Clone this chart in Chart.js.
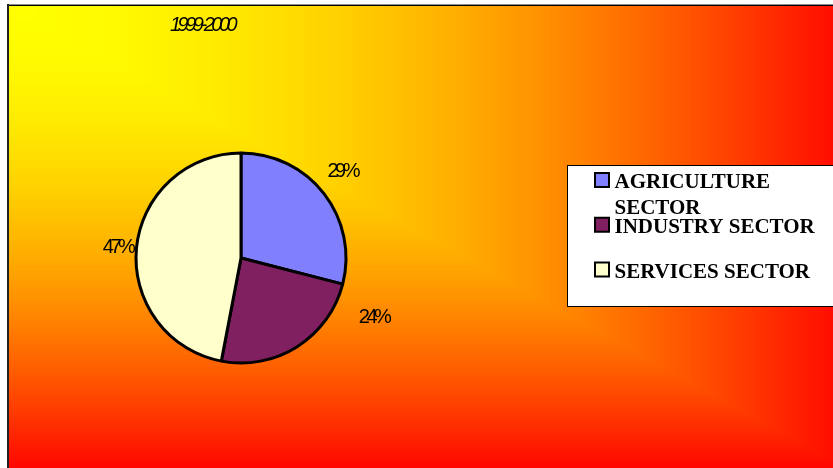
<!DOCTYPE html>
<html>
<head>
<meta charset="utf-8">
<script src="https://cdn.jsdelivr.net/npm/chart.js@4.4.1/dist/chart.umd.min.js"></script>
<style>
  body { margin: 0; background: #fff; }
  canvas { display: block; }
</style>
</head>
<body>
<canvas id="chart" width="833" height="468"></canvas>
<script>
// =======================
// DATA
// =======================
const chartTitle = "1999-2000";
const sectors = ["AGRICULTURE SECTOR", "INDUSTRY SECTOR", "SERVICES SECTOR"];
const shares = [29, 24, 47];
const sliceColors = ["#8080ff", "#802060", "#ffffcc"];

// where each % label sits: fraction along its slice, distance from centre
const labelSpots = [
  { at: 0.47, dist: 134 },
  { at: 0.11, dist: 145 },
  { at: 0.50, dist: 124 }
];

// =======================
// BACKGROUND + FRAME
// =======================
const backdrop = {
  id: "backdrop",
  beforeDraw(chart) {
    const ctx = chart.ctx;
    ctx.save();
    ctx.fillStyle = "#fff";
    ctx.fillRect(0, 0, chart.width, chart.height);

    // "from corner" fill: yellow top-left, red toward the far corner
    const x0 = 9, y0 = 6, W = 850, H = 470;
    const steps = 600;
    for (let i = steps; i >= 1; i--) {
      const t = i / steps;
      const g = Math.round(255 * (1 - Math.pow(t, 1.8)));
      ctx.fillStyle = `rgb(255,${g},0)`;
      ctx.fillRect(x0, y0, W * t, H * t);
    }

    // frame lines top and left
    ctx.fillStyle = "#8c8c8c";
    ctx.fillRect(7, 4, 826, 1);
    ctx.fillStyle = "#000";
    ctx.fillRect(7, 5, 826, 1);
    ctx.fillStyle = "#222";
    ctx.fillRect(7, 4, 2, 464);
    ctx.restore();
  }
};

// =======================
// TITLE, % LABELS, LEGEND
// =======================
const overlay = {
  id: "overlay",
  afterDraw(chart) {
    const ctx = chart.ctx;
    ctx.save();

    // title
    ctx.fillStyle = "#000";
    ctx.font = "italic 20px 'Liberation Sans', Arial, sans-serif";
    ctx.letterSpacing = "-3.5px";
    ctx.textAlign = "left";
    ctx.textBaseline = "middle";
    ctx.fillText(chartTitle, 170, 25);

    // percent labels
    const total = shares.reduce((a, b) => a + b, 0);
    const meta = chart.getDatasetMeta(0);
    ctx.font = "20px 'Liberation Sans', Arial, sans-serif";
    ctx.letterSpacing = "-3.5px";
    meta.data.forEach((arc, i) => {
      const p = arc.getProps(["x", "y", "startAngle", "endAngle"], true);
      const spot = labelSpots[i];
      const a = p.startAngle + spot.at * (p.endAngle - p.startAngle);
      const txt = Math.round(shares[i] / total * 100) + "%";
      const w = ctx.measureText(txt).width;
      const cx = p.x + Math.cos(a) * spot.dist;
      const cy = p.y + Math.sin(a) * spot.dist;
      ctx.fillText(txt, cx - w / 2, cy + 1);
    });

    // legend box
    ctx.letterSpacing = "0px";
    ctx.fillStyle = "#fff";
    ctx.fillRect(568, 165, 280, 142);
    ctx.strokeStyle = "#000";
    ctx.lineWidth = 1;
    ctx.strokeRect(567.5, 165.5, 280, 141);

    ctx.font = "bold 21px 'Liberation Serif', 'Times New Roman', serif";
    ctx.textBaseline = "alphabetic";
    const maxW = 210;
    sectors.forEach((name, i) => {
      const base = 188 + i * 44.75;
      ctx.fillStyle = "#000";
      ctx.fillRect(594, base - 16, 16, 16);
      ctx.fillStyle = sliceColors[i];
      ctx.fillRect(596, base - 14, 12, 12);

      // wrap long names
      const words = name.split(" ");
      let line = "", y = base;
      ctx.fillStyle = "#000";
      words.forEach(wd => {
        const test = line ? line + " " + wd : wd;
        if (line && ctx.measureText(test).width > maxW) {
          ctx.fillText(line, 614.5, y);
          line = wd;
          y += 25.5;
        } else {
          line = test;
        }
      });
      ctx.fillText(line, 614.5, y);
    });

    ctx.restore();
  }
};

// =======================
// CHART
// =======================
const ctx = document.getElementById("chart").getContext("2d");

new Chart(ctx, {
  type: "pie",
  data: {
    labels: sectors,
    datasets: [{
      data: shares,
      backgroundColor: sliceColors,
      borderColor: "#000",
      borderWidth: 3,
      radius: 105
    }]
  },
  options: {
    responsive: false,
    animation: false,
    layout: { padding: { left: 130, right: 481, top: 150, bottom: 102 } },
    plugins: {
      legend: { display: false },
      tooltip: { enabled: false }
    }
  },
  plugins: [backdrop, overlay]
});
</script>
</body>
</html>
